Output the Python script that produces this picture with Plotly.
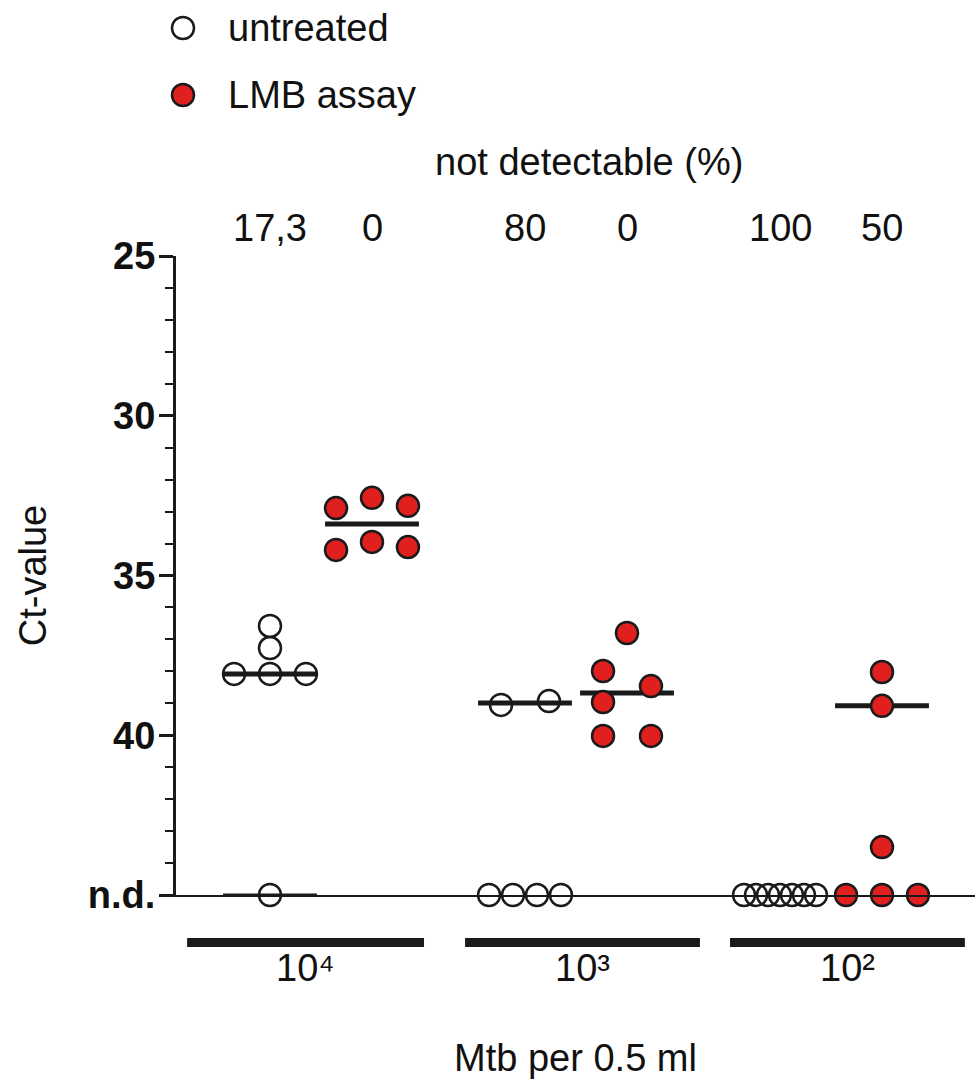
import plotly.graph_objects as go

# ---------------- data ----------------
ND = 45.0  # "n.d." (not detectable) plotted at the bottom of the axis

groups = ["10\u2074", "10\u00b3", "10\u00b2"]
nd_percent_untreated = ["17,3", "80", "100"]
nd_percent_lmb = ["0", "0", "50"]

untreated_ct = [
    [36.58, 37.27, 38.08, 38.08, 38.08, ND],
    [39.05, 38.93, ND, ND, ND, ND],
    [ND, ND, ND, ND, ND, ND, ND],
]
lmb_ct = [
    [32.89, 32.57, 32.82, 34.20, 33.95, 34.11],
    [36.80, 37.99, 38.46, 38.96, 40.02, 40.02],
    [38.02, 39.08, 43.50, ND, ND, ND],
]
untreated_median = [38.08, 38.99, None]
untreated_nd_mark = [ND, None, None]
lmb_median = [33.39, 38.68, 39.08]

# horizontal slot of each dot inside its cluster (scatter-dot spreading)
untreated_slots = [
    [0, 0, -3, 0, 3, 0],
    [-2, 2, -3, -1, 1, 3],
    [-3, -2, -1, 0, 1, 2, 3],
]
lmb_slots = [
    [-3, 0, 3, -3, 0, 3],
    [0, -2, 2, -2, -2, 2],
    [0, 0, 0, -3, 0, 3],
]

y_tickvals = [25, 30, 35, 40, ND]
y_ticktext = ["25", "30", "35", "40", "n.d."]

# ---------------- style / layout constants ----------------
FONT = "Liberation Sans, Arial, Helvetica, sans-serif"
INK = "#1a1a1a"
TXT = "#111111"
RED = "#e0201f"
FS = 38
SERIES_OFF = 0.2      # untreated at g-0.2, LMB at g+0.2
SLOT = 0.047          # spacing unit for dots
HALF_MED = 0.184      # half width of median bars
W, H = 979, 1084
ML, MR, MT, MB = 176, 4, 256, 189
X_RANGE = [-0.5686, 2.5647]
BAR_SPANS = [(-0.525, 0.404), (0.565, 1.486), (1.604, 2.525)]

fig = go.Figure()


def cluster_xy(values, slots, offset):
    xs, ys = [], []
    for g, (vals, sl) in enumerate(zip(values, slots)):
        for v, s in zip(vals, sl):
            xs.append(g + offset + s * SLOT)
            ys.append(v)
    return xs, ys


def median_xy(meds, offset):
    xs, ys = [], []
    for g, m in enumerate(meds):
        if m is None:
            continue
        c = g + offset
        xs += [c - HALF_MED, c + HALF_MED, None]
        ys += [m, m, None]
    return xs, ys


# median lines (drawn under the dots)
mx, my = median_xy(untreated_median, -SERIES_OFF)
fig.add_trace(go.Scatter(x=mx, y=my, mode="lines", line=dict(color=INK, width=5),
                         showlegend=False, hoverinfo="skip", cliponaxis=False))
mx, my = median_xy(untreated_nd_mark, -SERIES_OFF)
fig.add_trace(go.Scatter(x=mx, y=my, mode="lines", line=dict(color=INK, width=3),
                         showlegend=False, hoverinfo="skip", cliponaxis=False))
mx, my = median_xy(lmb_median, SERIES_OFF)
fig.add_trace(go.Scatter(x=mx, y=my, mode="lines", line=dict(color=INK, width=5),
                         showlegend=False, hoverinfo="skip", cliponaxis=False))

# dots
ux, uy = cluster_xy(untreated_ct, untreated_slots, -SERIES_OFF)
fig.add_trace(go.Scatter(x=ux, y=uy, mode="markers", name="untreated",
                         marker=dict(size=22, color="rgba(255,255,255,0)",
                                     line=dict(color=INK, width=2.5)),
                         showlegend=False, cliponaxis=False))
lx, ly = cluster_xy(lmb_ct, lmb_slots, SERIES_OFF)
fig.add_trace(go.Scatter(x=lx, y=ly, mode="markers", name="LMB assay",
                         marker=dict(size=22, color=RED,
                                     line=dict(color=INK, width=2.5)),
                         showlegend=False, cliponaxis=False))

plot_h = H - MT - MB
plot_w = W - ML - MR


def py(ypx):
    return (H - MB - ypx) / plot_h


def px(xpx):
    return (xpx - ML) / plot_w


shapes = []
annotations = []

# group bars under the axis + group labels
for (a, b), lab in zip(BAR_SPANS, groups):
    shapes.append(dict(type="rect", xref="x", yref="paper", x0=a, x1=b,
                       y0=py(947), y1=py(938), fillcolor=INK, line=dict(width=0)))
    annotations.append(dict(xref="x", yref="paper", x=(a + b) / 2, y=py(968),
                            text=lab, showarrow=False, xanchor="center", yanchor="middle",
                            font=dict(family=FONT, size=FS, color=TXT)))

# percent not detectable
annotations.append(dict(xref="paper", yref="paper", x=px(589), y=py(162),
                        text="not detectable (%)", showarrow=False,
                        xanchor="center", yanchor="middle",
                        font=dict(family=FONT, size=FS, color=TXT)))
for g in range(len(groups)):
    for off, txt in ((-SERIES_OFF, nd_percent_untreated[g]), (SERIES_OFF, nd_percent_lmb[g])):
        annotations.append(dict(xref="x", yref="paper", x=g + off, y=py(228),
                                text=txt, showarrow=False, xanchor="center", yanchor="middle",
                                font=dict(family=FONT, size=FS, color=TXT)))

# legend (manual)
for ypx, fill, label in ((28, "rgba(255,255,255,0)", "untreated"), (95, RED, "LMB assay")):
    shapes.append(dict(type="circle", xref="paper", yref="paper",
                       xsizemode="pixel", ysizemode="pixel",
                       xanchor=px(183), yanchor=py(ypx),
                       x0=-11, x1=11, y0=-11, y1=11,
                       fillcolor=fill, line=dict(color=INK, width=2.5)))
    annotations.append(dict(xref="paper", yref="paper", x=px(226), y=py(ypx),
                            text=label, showarrow=False, xanchor="left", yanchor="middle",
                            font=dict(family=FONT, size=FS, color=TXT)))

fig.update_layout(
    width=W, height=H,
    margin=dict(l=ML, r=MR, t=MT, b=MB, pad=0),
    paper_bgcolor="white", plot_bgcolor="white",
    font=dict(family=FONT, size=FS, color=TXT),
    shapes=shapes, annotations=annotations,
    showlegend=False,
)
fig.update_xaxes(
    range=X_RANGE, showgrid=False, zeroline=False,
    showline=True, linecolor=INK, linewidth=2,
    showticklabels=False, ticks="",
    title=dict(text="Mtb per 0.5 ml", font=dict(family=FONT, size=FS, color=TXT),
               standoff=148),
)
fig.update_yaxes(
    range=[ND, 25], showgrid=False, zeroline=False,
    showline=True, linecolor=INK, linewidth=3,
    tickmode="array", tickvals=y_tickvals, ticktext=y_ticktext,
    ticks="outside", ticklen=14, tickwidth=3, tickcolor=INK,
    ticklabelstandoff=-4,
    tickfont=dict(family=FONT, size=38, color=TXT, weight="bold"),
    minor=dict(tickmode="linear", tick0=25, dtick=1, ticks="outside",
               ticklen=8, tickwidth=2, tickcolor=INK),
    title=dict(text="Ct-value", font=dict(family=FONT, size=FS, color=TXT),
               standoff=30),
)

fig.write_html("out.html")
